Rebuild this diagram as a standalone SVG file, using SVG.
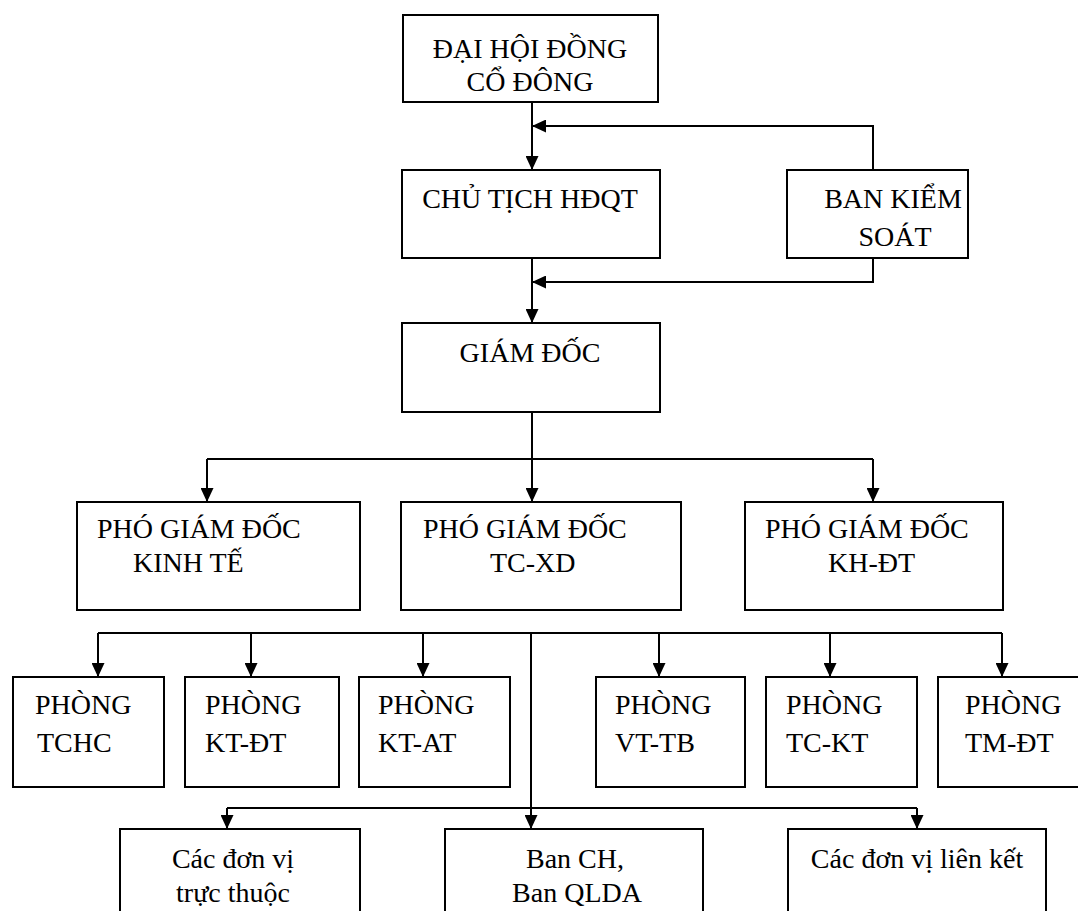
<svg xmlns="http://www.w3.org/2000/svg" width="1078" height="911" viewBox="0 0 1078 911">
<defs>
<marker id="arr" markerUnits="userSpaceOnUse" markerWidth="14" markerHeight="13" viewBox="0 0 14 13" refX="14" refY="6.5" orient="auto">
<path d="M0,0 L14,6.5 L0,13 z" fill="#000"/>
</marker>
<style>
.box{fill:#fff;stroke:#000;stroke-width:2}
.t{font-family:"Liberation Serif","Times New Roman",serif;font-size:28px;fill:#000}
.m{text-anchor:middle}
.c{fill:none;stroke:#000;stroke-width:2}
.a{fill:none;stroke:#000;stroke-width:2;marker-end:url(#arr)}
</style>
</defs>
<rect width="1078" height="911" fill="#fff"/>
<g id="connectors">
<path class="a" d="M532,102 V170"/>
<path class="a" d="M873,170 V126 H532"/>
<path class="a" d="M532,258 V323"/>
<path class="a" d="M873,258 V282 H532"/>
<path class="c" d="M532,412 V459 M207,459 H873"/>
<path class="a" d="M207,459 V502"/>
<path class="a" d="M532,459 V502"/>
<path class="a" d="M873,459 V502"/>
<path class="c" d="M98,633 H1002"/>
<path class="a" d="M98,633 V677"/>
<path class="a" d="M251,633 V677"/>
<path class="a" d="M423,633 V677"/>
<path class="a" d="M659,633 V677"/>
<path class="a" d="M830,633 V677"/>
<path class="a" d="M1002,633 V677"/>
<path class="c" d="M227,808 H917"/>
<path class="a" d="M531,633 V829"/>
<path class="a" d="M227,808 V829"/>
<path class="a" d="M917,808 V829"/>
</g>
<g id="dhdcd"><rect class="box" x="403" y="15" width="255" height="87"/>
<text class="t m" x="530" y="58">ĐẠI HỘI ĐỒNG</text><text class="t m" x="530" y="91">CỔ ĐÔNG</text></g>
<g id="cthdqt"><rect class="box" x="402" y="170" width="258" height="88"/>
<text class="t m" x="530" y="208">CHỦ TỊCH HĐQT</text></g>
<g id="bks"><rect class="box" x="787" y="170" width="181" height="88"/>
<text class="t m" x="893" y="208">BAN KIỂM</text><text class="t m" x="895" y="246">SOÁT</text></g>
<g id="gd"><rect class="box" x="402" y="323" width="258" height="89"/>
<text class="t m" x="530" y="362">GIÁM ĐỐC</text></g>
<g id="pgd-kt"><rect class="box" x="77" y="502" width="283" height="108"/>
<text class="t" x="97" y="538">PHÓ GIÁM ĐỐC</text><text class="t" x="133" y="572">KINH TẾ</text></g>
<g id="pgd-tcxd"><rect class="box" x="401" y="502" width="280" height="108"/>
<text class="t" x="423" y="538">PHÓ GIÁM ĐỐC</text><text class="t" x="490" y="572">TC-XD</text></g>
<g id="pgd-khdt"><rect class="box" x="745" y="502" width="258" height="108"/>
<text class="t" x="765" y="538">PHÓ GIÁM ĐỐC</text><text class="t" x="828" y="572">KH-ĐT</text></g>
<g id="p-tchc"><rect class="box" x="13" y="677" width="151" height="110"/>
<text class="t" x="35" y="714">PHÒNG</text><text class="t" x="37" y="752">TCHC</text></g>
<g id="p-ktdt"><rect class="box" x="185" y="677" width="154" height="110"/>
<text class="t" x="205" y="714">PHÒNG</text><text class="t" x="205" y="752">KT-ĐT</text></g>
<g id="p-ktat"><rect class="box" x="359" y="677" width="151" height="110"/>
<text class="t" x="378" y="714">PHÒNG</text><text class="t" x="378" y="752">KT-AT</text></g>
<g id="p-vttb"><rect class="box" x="596" y="677" width="149" height="110"/>
<text class="t" x="615" y="714">PHÒNG</text><text class="t" x="615" y="752">VT-TB</text></g>
<g id="p-tckt"><rect class="box" x="766" y="677" width="151" height="110"/>
<text class="t" x="786" y="714">PHÒNG</text><text class="t" x="786" y="752">TC-KT</text></g>
<g id="p-tmdt"><rect class="box" x="938" y="677" width="160" height="110"/>
<text class="t" x="965" y="714">PHÒNG</text><text class="t" x="965" y="752">TM-ĐT</text></g>
<g id="dv-tt"><rect class="box" x="120" y="829" width="240" height="110"/>
<text class="t m" x="233" y="868">Các đơn vị</text><text class="t m" x="233" y="902">trực thuộc</text></g>
<g id="ban-ch"><rect class="box" x="445" y="829" width="258" height="110"/>
<text class="t m" x="575" y="868">Ban CH,</text><text class="t m" x="577" y="902">Ban QLDA</text></g>
<g id="dv-lk"><rect class="box" x="788" y="829" width="258" height="110"/>
<text class="t m" x="917" y="868">Các đơn vị liên kết</text></g>
</svg>
